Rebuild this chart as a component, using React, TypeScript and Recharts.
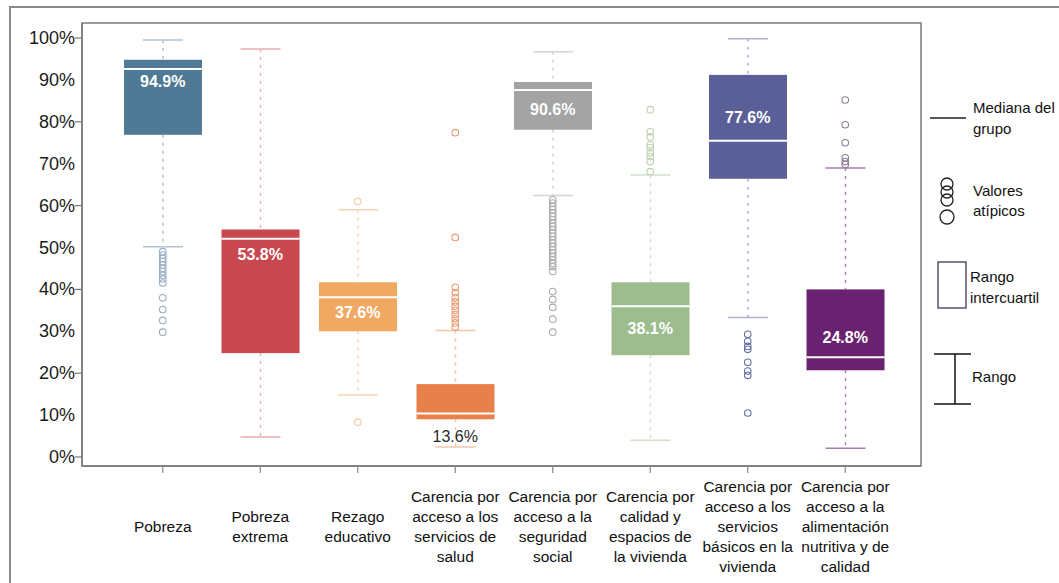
import React from "react";
import * as RC from "recharts";
import { ComposedChart, Bar, Scatter, XAxis, YAxis } from "recharts";

// categories and tick labels (split into lines as in the source figure)
const categories = [
  "Pobreza",
  "Pobreza extrema",
  "Rezago educativo",
  "Carencia por acceso a los servicios de salud",
  "Carencia por acceso a la seguridad social",
  "Carencia por calidad y espacios de la vivienda",
  "Carencia por acceso a los servicios básicos en la vivienda",
  "Carencia por acceso a la alimentación nutritiva y de calidad",
];
const tickLines = [
  ["Pobreza"],
  ["Pobreza", "extrema"],
  ["Rezago", "educativo"],
  ["Carencia por", "acceso a los", "servicios de", "salud"],
  ["Carencia por", "acceso a la", "seguridad", "social"],
  ["Carencia por", "calidad y", "espacios de", "la vivienda"],
  ["Carencia por", "acceso a los", "servicios", "básicos en la", "vivienda"],
  ["Carencia por", "acceso a la", "alimentación", "nutritiva y de", "calidad"],
];
const yTicks = [0, 10, 20, 30, 40, 50, 60, 70, 80, 90, 100];

// box plot statistics, in %
const mins = [50.2, 4.8, 14.8, 2.4, 62.4, 4.0, 33.3, 2.1];
const q1s = [76.9, 24.8, 30.0, 9.0, 78.1, 24.3, 66.4, 20.7];
const medians = [92.6, 52.1, 38.1, 10.4, 87.6, 36.0, 75.5, 23.8];
const q3s = [94.8, 54.3, 41.7, 17.4, 89.5, 41.7, 91.2, 40.0];
const maxs = [99.5, 97.4, 59.0, 30.2, 96.7, 67.3, 99.8, 69.0];

// value printed on each box and where it sits (in %)
const boxLabels = ["94.9%", "53.8%", "37.6%", "13.6%", "90.6%", "38.1%", "77.6%", "24.8%"];
const labelAt = [89.5, 48.3, 34.5, 4.8, 82.9, 30.7, 81.0, 28.6];

// outliers per category
const pobrezaOut = [49.0, 48.2, 47.4, 46.6, 45.8, 45.0, 44.2, 43.4, 42.5, 41.5, 38.0, 35.2, 32.6, 29.8];
const extremaOut: number[] = [];
const rezagoOut = [61.0, 8.3];
const saludOut = [77.4, 52.4, 40.5, 39.2, 38.0, 37.0, 36.0, 35.0, 34.0, 33.0, 32.0, 31.0];
const seguridadOut = [
  61.4, 60.6, 59.8, 59.0, 58.2, 57.4, 56.6, 55.8, 55.0, 54.2, 53.4, 52.6, 51.8, 51.0,
  50.2, 49.4, 48.6, 47.8, 47.0, 46.2, 45.4, 44.3, 39.5, 37.6, 35.7, 32.9, 29.8,
];
const viviendaOut = [82.9, 77.6, 76.4, 74.5, 73.8, 72.6, 71.7, 70.5, 68.1];
const serviciosOut = [29.3, 27.6, 26.4, 25.7, 22.6, 20.5, 19.5, 10.5];
const alimentacionOut = [85.2, 79.3, 75.0, 71.4, 70.5, 69.8];
const outliers = [
  pobrezaOut, extremaOut, rezagoOut, saludOut,
  seguridadOut, viviendaOut, serviciosOut, alimentacionOut,
];

const boxColors = ["#4f7994", "#c9474f", "#f0a862", "#e8804c", "#a4a4a4", "#9dbd8e", "#5a5f98", "#6a2270"];
const whiskerColors = ["#b3c3d1", "#e9adb2", "#f7d5b3", "#f3c6ac", "#d4d4d4", "#d2dfca", "#b0b3cf", "#a77cb0"];
const outlierColors = ["#98aec3", "#dd8890", "#f3c9a0", "#e99a72", "#adadad", "#bfd1b0", "#6571a6", "#8d7f96"];

const FONT = "'Liberation Sans', Arial, Helvetica, sans-serif";
const FRAME = "#7a7a7a";

const data = categories.map((name, i) => ({
  name,
  base: mins[i],
  lowW: q1s[i] - mins[i],
  lowB: medians[i] - q1s[i],
  highB: q3s[i] - medians[i],
  highW: maxs[i] - q3s[i],
}));

const outlierData = outliers.flatMap((arr, i) => arr.map((v) => ({ name: categories[i], v })));
const labelData = categories.map((name, i) => ({ name, v: labelAt[i], text: boxLabels[i] }));

const idx = (p: any) => (typeof p.index === "number" ? p.index : categories.indexOf(p.payload?.name));

const LowWhisker = (p: any) => {
  const i = idx(p);
  const cx = p.x + p.width / 2;
  const c = whiskerColors[i];
  const yb = p.y + p.height;
  return (
    <g>
      <line x1={cx} x2={cx} y1={p.y} y2={yb} stroke={c} strokeWidth={1.5} strokeDasharray="3 5" />
      <line x1={cx - 20} x2={cx + 20} y1={yb} y2={yb} stroke={c} strokeWidth={1.5} />
    </g>
  );
};

const HighWhisker = (p: any) => {
  const i = idx(p);
  const cx = p.x + p.width / 2;
  const c = whiskerColors[i];
  return (
    <g>
      <line x1={cx} x2={cx} y1={p.y} y2={p.y + p.height} stroke={c} strokeWidth={1.5} strokeDasharray="3 5" />
      <line x1={cx - 20} x2={cx + 20} y1={p.y} y2={p.y} stroke={c} strokeWidth={1.5} />
    </g>
  );
};

const LowBox = (p: any) => (
  <rect x={p.x} y={p.y} width={p.width} height={p.height} fill={boxColors[idx(p)]} />
);

const HighBox = (p: any) => {
  const yb = p.y + p.height;
  return (
    <g>
      <rect x={p.x} y={p.y} width={p.width} height={p.height} fill={boxColors[idx(p)]} />
      <line x1={p.x} x2={p.x + p.width} y1={yb} y2={yb} stroke="#ffffff" strokeWidth={2} />
    </g>
  );
};

const OutlierDot = (p: any) => {
  const i = categories.indexOf(p.payload.name);
  return <circle cx={p.cx} cy={p.cy} r={3.3} fill="none" stroke={outlierColors[i]} strokeWidth={1.1} />;
};

const BoxLabel = (p: any) => {
  const i = categories.indexOf(p.payload.name);
  const below = i === 3;
  return (
    <text
      x={p.cx}
      y={p.cy}
      textAnchor="middle"
      dominantBaseline="central"
      fontFamily={FONT}
      fontSize={16}
      fontWeight={below ? 400 : 700}
      fill={below ? "#2a2a2a" : "#ffffff"}
    >
      {p.payload.text}
    </text>
  );
};

const XTick = (p: any) => {
  const i = categories.indexOf(p.payload.value);
  const lines = tickLines[i] || [p.payload.value];
  const y0 = p.y + 51 - ((lines.length - 1) * 20) / 2;
  return (
    <text x={p.x} y={y0} textAnchor="middle" fontFamily={FONT} fontSize={15.5} fill="#111" dominantBaseline="central">
      {lines.map((l, k) => (
        <tspan key={k} x={p.x} y={y0 + k * 20}>
          {l}
        </tspan>
      ))}
    </text>
  );
};

const YTick = (p: any) => {
  const v = p.payload.value;
  return (
    <g>
      {v % 20 === 0 && <line x1={p.x - 7} x2={p.x} y1={p.y} y2={p.y} stroke="#777" strokeWidth={1.2} />}
      <text x={p.x - 7} y={p.y} textAnchor="end" dominantBaseline="central" fontFamily={FONT} fontSize={18} fill="#1a1a1a">
        {`${v}%`}
      </text>
    </g>
  );
};

// border round the plot area
const PlotFrame = () => {
  const R: any = RC;
  const area = R.usePlotArea ? R.usePlotArea() : null;
  const off = !area && R.useOffset ? R.useOffset() : null;
  const w = R.useChartWidth ? R.useChartWidth() : 0;
  const h = R.useChartHeight ? R.useChartHeight() : 0;
  let box: any = null;
  if (area) box = area;
  else if (off && w && h) box = { x: off.left, y: off.top, width: w - off.left - off.right, height: h - off.top - off.bottom };
  if (!box) return null;
  return (
    <rect x={box.x} y={box.y} width={box.width} height={box.height} fill="none" stroke={FRAME} strokeWidth={1.5} />
  );
};

const Legend = () => (
  <svg width={1059} height={583} style={{ position: "absolute", left: 0, top: 0, pointerEvents: "none" }}>
    <g fontFamily={FONT} fontSize={15} fill="#111">
      <line x1={930} x2={966} y1={118} y2={118} stroke="#222" strokeWidth={1.3} />
      <text x={973} y={107} dominantBaseline="central">Mediana del</text>
      <text x={973} y={128} dominantBaseline="central">grupo</text>

      <g fill="none" stroke="#222" strokeWidth={1.3}>
        <circle cx={947} cy={184} r={6} />
        <circle cx={947} cy={192} r={6} />
        <circle cx={947} cy={200} r={6} />
        <circle cx={947} cy={217} r={7} />
      </g>
      <text x={973} y={190} dominantBaseline="central">Valores</text>
      <text x={973} y={210} dominantBaseline="central">atípicos</text>

      <rect x={938} y={262} width={28} height={46} fill="none" stroke="#3a3a5a" strokeWidth={1.3} />
      <text x={970} y={276} dominantBaseline="central">Rango</text>
      <text x={970} y={297} dominantBaseline="central">intercuartil</text>

      <g stroke="#111" strokeWidth={1.5}>
        <line x1={934} x2={971} y1={354} y2={354} />
        <line x1={934} x2={971} y1={404} y2={404} />
        <line x1={955} x2={955} y1={354} y2={404} />
      </g>
      <text x={972} y={376} dominantBaseline="central">Rango</text>
    </g>
  </svg>
);

export default function App() {
  return (
    <div style={{ position: "absolute", left: 0, top: 0, width: 1059, height: 583, background: "#fff", overflow: "hidden" }}>
      <div
        style={{
          position: "absolute",
          left: 9,
          top: 6,
          width: 1100,
          height: 640,
          borderLeft: "2px solid #8a8a8a",
          borderTop: "2px solid #8a8a8a",
        }}
      />
      <div style={{ position: "absolute", left: 0, top: 0 }}>
        <ComposedChart
          width={1059}
          height={583}
          data={data}
          margin={{ top: 23, right: 138, left: 0, bottom: 0 }}
          barCategoryGap={0}
        >
          <XAxis
            dataKey="name"
            type="category"
            allowDuplicatedCategory={false}
            padding={{ left: 32, right: 27 }}
            height={117}
            tickSize={7}
            tickMargin={2}
            tickLine={{ stroke: "#888", strokeWidth: 1.2 }}
            axisLine={{ stroke: FRAME, strokeWidth: 1.5 }}
            tick={<XTick />}
            interval={0}
          />
          <YAxis
            type="number"
            domain={[0, 100]}
            ticks={yTicks}
            padding={{ top: 15, bottom: 9 }}
            width={82}
            tickSize={0}
            tickMargin={0}
            tickLine={false}
            axisLine={{ stroke: FRAME, strokeWidth: 1.5 }}
            tick={<YTick />}
            interval={0}
          />

          <PlotFrame />

          <Bar dataKey="base" stackId="box" barSize={78} fill="none" shape={() => <g />} isAnimationActive={false} />
          <Bar dataKey="lowW" stackId="box" barSize={78} shape={<LowWhisker />} isAnimationActive={false} />
          <Bar dataKey="lowB" stackId="box" barSize={78} shape={<LowBox />} isAnimationActive={false} />
          <Bar dataKey="highB" stackId="box" barSize={78} shape={<HighBox />} isAnimationActive={false} />
          <Bar dataKey="highW" stackId="box" barSize={78} shape={<HighWhisker />} isAnimationActive={false} />

          <Scatter data={outlierData} dataKey="v" shape={<OutlierDot />} isAnimationActive={false} />
          <Scatter data={labelData} dataKey="v" shape={<BoxLabel />} isAnimationActive={false} />
        </ComposedChart>
      </div>
      <Legend />
    </div>
  );
}
